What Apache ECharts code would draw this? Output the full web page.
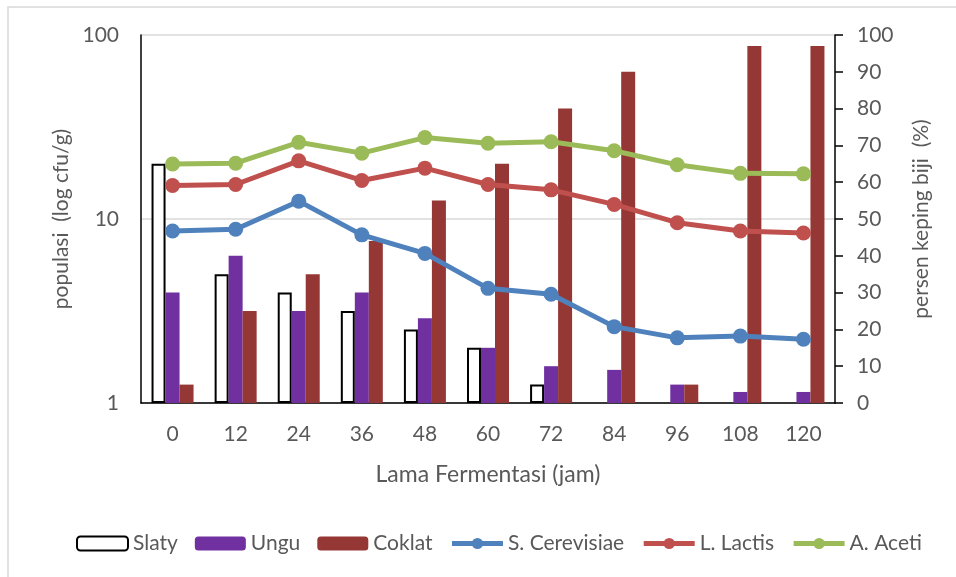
<!DOCTYPE html>
<html>
<head>
<meta charset="utf-8">
<script src="https://cdn.jsdelivr.net/npm/echarts@6/dist/echarts.min.js"></script>
<style>html,body{margin:0;padding:0;background:#fff}#c{width:956px;height:577px}</style>
</head>
<body>
<div id="c"></div>
<script>
const categories = ['0','12','24','36','48','60','72','84','96','108','120'];
const slaty = [65, 35, 30, 25, 20, 15, 5, null, null, null, null];
const ungu = [30, 40, 25, 30, 23, 15, 10, 9, 5, 3, 3];
const coklat = [5, 25, 35, 44, 55, 65, 80, 90, 5, 97, 97];
const sCerevisiae = [8.6, 8.8, 12.5, 8.2, 6.5, 4.2, 3.9, 2.6, 2.26, 2.31, 2.22];
const lLactis = [15.2, 15.4, 20.7, 16.2, 18.9, 15.4, 14.4, 12.0, 9.55, 8.6, 8.4];
const aAceti = [19.9, 20.1, 26.1, 22.8, 27.7, 25.8, 26.3, 23.5, 19.7, 17.7, 17.6];

const FONT = 'Lato';
const TXT = '#595959';
const chart = echarts.init(document.getElementById('c'));
const lineSeries = (name, data, color) => ({
  name, type: 'line', yAxisIndex: 0, data,
  symbol: 'circle', symbolSize: 15,
  lineStyle: { color, width: 5 },
  itemStyle: { color },
  z: 5
});
chart.setOption({
  animation: false,
  textStyle: { fontFamily: FONT },
  graphic: [{
    type: 'rect', silent: true,
    shape: { x: 8, y: 7, width: 970, height: 590 },
    style: { fill: 'none', stroke: '#d9d9d9', lineWidth: 1.5 }
  }],
  grid: { left: 141, right: 121, top: 35, bottom: 174 },
  legend: {
    bottom: 18, left: 71,
    itemWidth: 51, itemHeight: 14, itemGap: 17,
    textStyle: { color: TXT, fontSize: 21, fontFamily: FONT },
    lineStyle: { width: 5 },
    data: ['Slaty', 'Ungu', 'Coklat',
      { name: 'S. Cerevisiae', lineStyle: { width: 5 } },
      { name: 'L. Lactis', lineStyle: { width: 5 } },
      { name: 'A. Aceti', lineStyle: { width: 5 } }]
  },
  xAxis: {
    type: 'category', data: categories,
    name: 'Lama Fermentasi (jam)', nameLocation: 'middle', nameGap: 60,
    nameTextStyle: { color: TXT, fontSize: 23, fontFamily: FONT },
    axisLine: { lineStyle: { color: '#000', width: 1.5 } },
    axisTick: { show: false },
    axisLabel: { color: TXT, fontSize: 21, margin: 21, fontFamily: FONT }
  },
  yAxis: [{
    type: 'log', logBase: 10, min: 1, max: 100, position: 'left',
    name: 'populasi  (log cfu/g)', nameLocation: 'middle', nameGap: 66,
    nameTextStyle: { color: TXT, fontSize: 21, fontFamily: FONT },
    axisLine: { show: true, lineStyle: { color: '#000', width: 1.5 } },
    axisTick: { show: false },
    axisLabel: { color: TXT, fontSize: 21, margin: 22, fontFamily: FONT },
    splitLine: { show: true, lineStyle: { color: '#d9d9d9', width: 1.5 } }
  }, {
    type: 'value', min: 0, max: 100, interval: 10, position: 'right',
    name: 'persen keping biji  (%)', nameLocation: 'middle', nameGap: 76,
    nameRotate: 90,
    nameTextStyle: { color: TXT, fontSize: 21, fontFamily: FONT },
    axisLine: { show: true, lineStyle: { color: '#000', width: 1.5 } },
    axisTick: { show: true, inside: false, length: 8, lineStyle: { color: '#000', width: 1.5 } },
    axisLabel: { color: TXT, fontSize: 21, margin: 22, fontFamily: FONT },
    splitLine: { show: false }
  }],
  series: [
    { name: 'Slaty', type: 'bar', yAxisIndex: 1, data: slaty, barWidth: 14, barGap: '0%',
      itemStyle: { color: '#ffffff', borderColor: '#000', borderWidth: 2 } },
    { name: 'Ungu', type: 'bar', yAxisIndex: 1, data: ungu, barWidth: 14, barGap: '0%',
      itemStyle: { color: '#7030a0' } },
    { name: 'Coklat', type: 'bar', yAxisIndex: 1, data: coklat, barWidth: 14, barGap: '0%',
      itemStyle: { color: '#953735' } },
    lineSeries('S. Cerevisiae', sCerevisiae, '#4f81bd'),
    lineSeries('L. Lactis', lLactis, '#c0504d'),
    lineSeries('A. Aceti', aAceti, '#9bbb59')
  ]
});
</script>
</body>
</html>
